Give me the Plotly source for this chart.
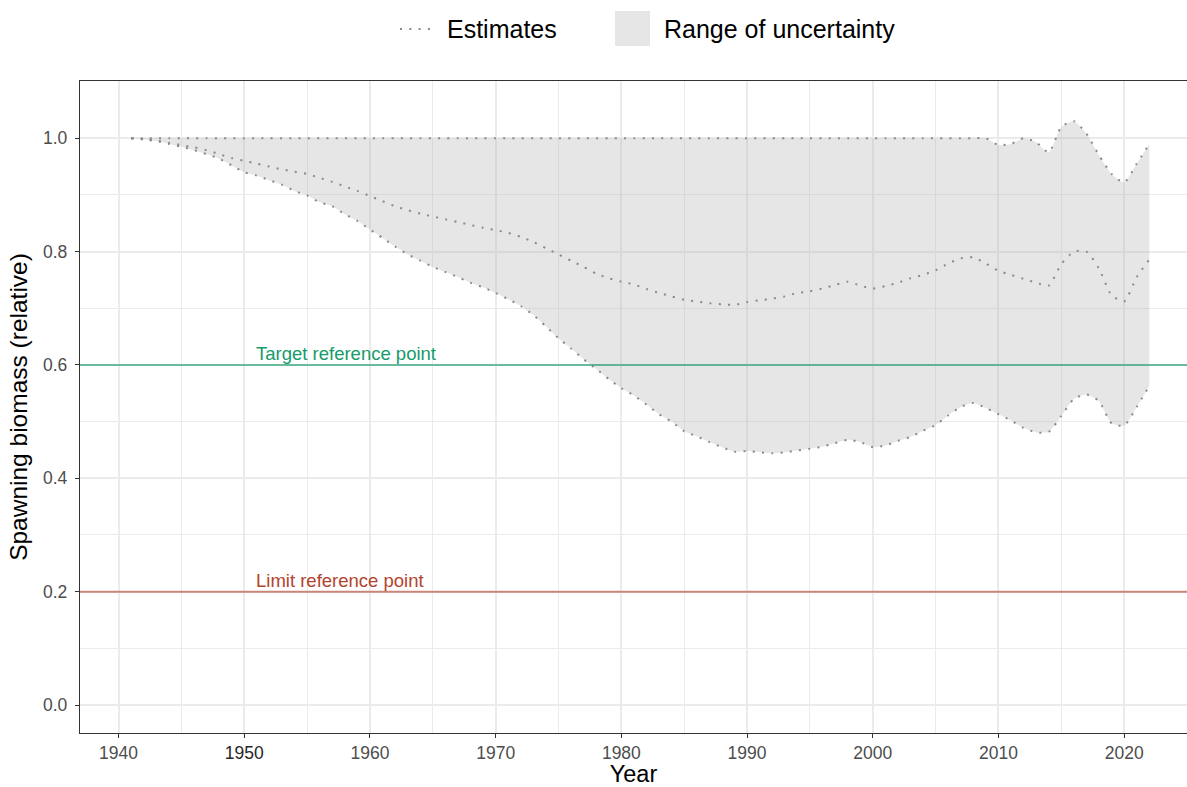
import plotly.graph_objects as go

# ---------------- data ----------------
years = list(range(1941, 2023))

upper = [1.0] * (2009 - 1941 + 1) + [
    0.988, 0.990, 1.000, 0.993, 0.975, 1.020, 1.030, 1.008, 0.970, 0.937, 0.922, 0.955, 0.990
]

estimate = [
    1.000, 0.998, 0.996, 0.992, 0.988, 0.984, 0.979, 0.972, 0.965, 0.960,   # 1941-1950
    0.955, 0.950, 0.945, 0.941, 0.937, 0.930, 0.923, 0.915, 0.907, 0.898,   # 1951-1960
    0.889, 0.880, 0.873, 0.867, 0.862, 0.857, 0.852, 0.847, 0.842, 0.838,   # 1961-1970
    0.833, 0.826, 0.817, 0.806, 0.795, 0.784, 0.773, 0.761, 0.753, 0.747,   # 1971-1980
    0.742, 0.734, 0.727, 0.721, 0.715, 0.712, 0.709, 0.707, 0.706, 0.711,   # 1981-1990
    0.714, 0.717, 0.721, 0.727, 0.730, 0.735, 0.741, 0.747, 0.740, 0.735,   # 1991-2000
    0.739, 0.745, 0.753, 0.759, 0.767, 0.779, 0.788, 0.790, 0.779, 0.766,   # 2001-2010
    0.759, 0.752, 0.745, 0.740, 0.778, 0.800, 0.800, 0.770, 0.723, 0.712,   # 2011-2020
    0.755, 0.786,                                                           # 2021-2022
]

lower = [
    1.000, 0.998, 0.995, 0.990, 0.985, 0.979, 0.972, 0.964, 0.952, 0.940,   # 1941-1950
    0.934, 0.926, 0.918, 0.907, 0.899, 0.887, 0.880, 0.866, 0.854, 0.839,   # 1951-1960
    0.824, 0.809, 0.795, 0.784, 0.773, 0.764, 0.755, 0.745, 0.737, 0.727,   # 1961-1970
    0.716, 0.704, 0.688, 0.668, 0.647, 0.629, 0.610, 0.593, 0.575, 0.559,   # 1971-1980
    0.546, 0.530, 0.513, 0.500, 0.483, 0.474, 0.464, 0.455, 0.447, 0.448,   # 1981-1990
    0.446, 0.444, 0.446, 0.449, 0.452, 0.456, 0.462, 0.468, 0.464, 0.455,   # 1991-2000
    0.458, 0.466, 0.473, 0.484, 0.494, 0.511, 0.526, 0.533, 0.524, 0.513,   # 2001-2010
    0.502, 0.489, 0.481, 0.482, 0.510, 0.540, 0.548, 0.536, 0.497, 0.493,   # 2011-2020
    0.526, 0.563,                                                           # 2021-2022
]

x_ticks = [1940, 1950, 1960, 1970, 1980, 1990, 2000, 2010, 2020]
x_ticklabels = ["1940", "<span style='color:#262626'>1950</span>", "1960", "1970",
                "1980", "1990", "2000", "2010", "2020"]
y_ticks = [0.0, 0.2, 0.4, 0.6, 0.8, 1.0]
y_ticklabels = ["0.0", "0.2", "0.4", "0.6", "0.8", "1.0"]

ref_values = [0.6, 0.2]
ref_labels = ["Target reference point", "Limit reference point"]
ref_label_x = 1951
ref_colors = ["#169B6B", "#B4432D"]

legend_labels = ["Estimates", "Range of uncertainty"]

# ---------------- styles ----------------
DOT_COLOR = "#8A8A8A"
DOT_DASH = "2px,7.3px"
FILL = "rgba(180,180,180,0.33)"
GRID = "#EBEBEB"
FONT = "Liberation Sans, Arial, sans-serif"

fig = go.Figure()

# uncertainty band
fig.add_trace(go.Scatter(x=years, y=lower, mode="lines", line=dict(width=0, shape="spline", smoothing=0.6),
                         hoverinfo="skip", showlegend=False))
fig.add_trace(go.Scatter(x=years, y=upper, mode="lines", line=dict(width=0, shape="spline", smoothing=0.6),
                         fill="tonexty", fillcolor=FILL, hoverinfo="skip", showlegend=False))

# reference lines
for v, lab, c in zip(ref_values, ref_labels, ref_colors):
    fig.add_hline(y=v, line=dict(color=c, width=2), opacity=0.6, layer="above")
    fig.add_annotation(x=ref_label_x, y=v, text=lab, showarrow=False, xanchor="left", yanchor="bottom",
                       font=dict(family=FONT, size=18.5, color=c), xref="x", yref="y",
                       xshift=-3, yshift=-1)

# dotted estimate lines
for series in (upper, estimate, lower):
    fig.add_trace(go.Scatter(x=years, y=series, mode="lines",
                             line=dict(color=DOT_COLOR, width=2, dash=DOT_DASH, shape="spline", smoothing=0.6),
                             hoverinfo="skip", showlegend=False))

# custom legend (paper coordinates)
W, H = 1187, 787
ml, mr, mt, mb = 80, 0, 81, 54
plot_w = W - ml - mr
plot_h = H - mt - mb
def paper_x(xp):
    return (xp - ml) / plot_w
def paper_y(yp):
    return (H - mb - yp) / plot_h

fig.add_shape(type="line", xref="paper", yref="paper",
              x0=paper_x(400), x1=paper_x(434), y0=paper_y(29), y1=paper_y(29),
              line=dict(color=DOT_COLOR, width=2, dash=DOT_DASH))
fig.add_annotation(xref="paper", yref="paper", x=paper_x(445), y=paper_y(29), text=legend_labels[0],
                   showarrow=False, xanchor="left", yanchor="middle",
                   font=dict(family=FONT, size=25, color="#000000"))
fig.add_shape(type="rect", xref="paper", yref="paper",
              x0=paper_x(615), x1=paper_x(650), y0=paper_y(46), y1=paper_y(11),
              line=dict(width=0), fillcolor="#E6E6E6")
fig.add_annotation(xref="paper", yref="paper", x=paper_x(662), y=paper_y(29), text=legend_labels[1],
                   showarrow=False, xanchor="left", yanchor="middle",
                   font=dict(family=FONT, size=25, color="#000000"))

fig.update_layout(
    width=W, height=H,
    margin=dict(l=ml, r=mr, t=mt, b=mb),
    paper_bgcolor="white", plot_bgcolor="white",
    showlegend=False,
    font=dict(family=FONT),
    xaxis=dict(
        range=[1936.93, 2025.0],
        tickvals=x_ticks, ticktext=x_ticklabels,
        tickfont=dict(size=17.5, color="#4D4D4D"),
        ticks="outside", ticklen=4, tickwidth=1.3, tickcolor="#333333",
        showline=True, linecolor="#333333", linewidth=1.3, mirror=True,
        showgrid=True, gridcolor=GRID, gridwidth=1.7,
        minor=dict(dtick=5, tick0=1935, showgrid=True, gridcolor=GRID, gridwidth=0.9, ticks=""),
        zeroline=False,
        title=dict(text="Year", font=dict(size=23.5, color="#000000"), standoff=8),
    ),
    yaxis=dict(
        range=[-0.0494, 1.101],
        tickvals=y_ticks, ticktext=y_ticklabels,
        tickfont=dict(size=17.5, color="#4D4D4D"),
        ticks="outside", ticklen=4, tickwidth=1.3, tickcolor="#333333",
        ticklabelstandoff=4,
        showline=True, linecolor="#333333", linewidth=1.3, mirror=False,
        showgrid=True, gridcolor=GRID, gridwidth=1.7,
        minor=dict(dtick=0.1, tick0=0, showgrid=True, gridcolor=GRID, gridwidth=0.9, ticks=""),
        zeroline=False,
        title=dict(text="Spawning biomass (relative)", font=dict(size=24.5, color="#000000"), standoff=8),
    ),
)

fig.write_html("out.html", config={"displayModeBar": False},
               post_script="document.body.style.margin='0';document.body.style.overflow='hidden';")
